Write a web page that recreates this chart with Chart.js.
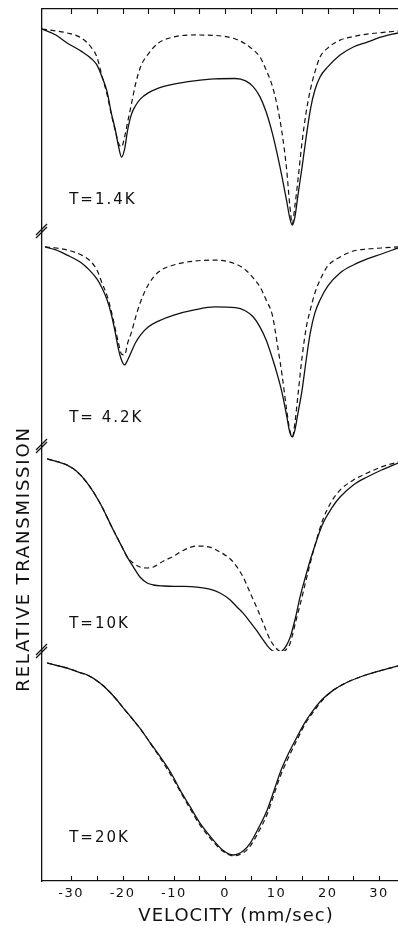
<!DOCTYPE html>
<html>
<head>
<meta charset="utf-8">
<title>Relative transmission vs velocity</title>
<script src="https://cdn.jsdelivr.net/npm/chart.js@4.4.1/dist/chart.umd.min.js"></script>
<style>
  html, body { margin: 0; padding: 0; background: #fff; }
  #wrap { position: relative; width: 398px; height: 926px; }
</style>
</head>
<body>
<div id="wrap"><canvas id="mossbauer"></canvas></div>
<script>
// Velocity axis (mm/sec)
const velocityMin = -35.7;
const velocityMax = 33.7;
const velocityTicks = [-30, -20, -10, 0, 10, 20, 30];
const velocityMinorTicks = [-30, -25, -20, -15, -10, -5, 0, 5, 10, 15, 20, 25, 30];

const panelLabels = ['T=1.4K', 'T= 4.2K', 'T=10K', 'T=20K'];

// T = 1.4 K  (relative transmission, arbitrary units per panel)
const vel1 = [-35.7, -33, -30.8, -28, -26, -25, -24, -23, -22.2, -21.4, -20.8, -20.2, -19.6, -19, -18.3, -17.5, -16.5, -15, -13, -10, -6, -2, 2, 4, 5.5, 6.8, 8, 9.2, 10.2, 11.1, 12, 12.6, 13.1, 13.6, 14.2, 15, 15.8, 16.6, 17.5, 18.5, 20, 22.4, 25, 27.7, 30.5, 33.7];
const solid1 = [91.0, 88.3, 84.7, 80.9, 77.5, 74.8, 69.4, 62.6, 53.2, 45.5, 38.3, 33.3, 36.9, 45.5, 52.3, 56.3, 59.5, 62.2, 64.4, 66.2, 67.6, 68.5, 68.7, 67.6, 64.9, 60.4, 53.6, 44.1, 34.2, 24.3, 13.5, 5.9, 2.7, 6.3, 16.2, 28.8, 42.3, 54.5, 63.5, 69.4, 73.9, 79.3, 82.9, 85.1, 87.4, 89.2];
const dashed1 = [91.0, 90.1, 89.2, 86.9, 82.4, 78.4, 69.8, 61.3, 52.7, 45.0, 39.6, 37.8, 42.3, 49.1, 56.8, 65.8, 73.9, 79.7, 84.7, 87.4, 88.3, 88.1, 86.5, 84.2, 81.5, 78.4, 72.5, 65.3, 55.9, 44.1, 27.5, 11.7, 3.2, 11.3, 23.0, 40.1, 53.6, 63.5, 71.6, 78.4, 82.4, 86.0, 87.6, 88.7, 89.4, 90.1];

// T = 4.2 K
const vel2 = [-35.1, -33, -30.8, -28, -26.5, -25, -24, -23, -22.2, -21.4, -20.8, -20.2, -19.6, -19, -18.3, -17.5, -16.5, -15, -13, -10, -6, -2, 2, 4, 5.5, 6.8, 8, 9.2, 10.2, 11.1, 12, 12.6, 13.1, 13.6, 14.2, 15, 15.8, 16.6, 17.5, 18.5, 20, 22.4, 25, 27.7, 30.5, 33.7];
const solid2 = [92.6, 91.2, 88.8, 85.1, 81.9, 77.7, 73.5, 67.9, 61.4, 52.6, 45.1, 40.0, 37.7, 40.0, 43.7, 47.9, 51.6, 55.3, 58.1, 60.9, 63.3, 64.7, 64.4, 62.8, 60.0, 55.3, 49.3, 40.9, 33.0, 24.7, 14.0, 6.5, 4.2, 7.4, 15.3, 26.0, 40.0, 52.6, 61.9, 67.9, 74.4, 80.5, 84.2, 87.0, 89.3, 92.1];
const dashed2 = [92.6, 92.1, 91.2, 88.8, 86.5, 81.9, 75.8, 69.8, 62.8, 54.4, 47.9, 42.8, 42.3, 47.9, 52.6, 59.5, 67.0, 74.9, 80.9, 84.2, 86.0, 86.5, 84.7, 81.9, 78.1, 74.0, 67.9, 60.9, 47.0, 33.0, 16.7, 7.4, 4.2, 10.7, 23.7, 41.4, 54.9, 63.3, 71.2, 77.2, 83.7, 87.9, 90.7, 91.6, 92.1, 92.6];

// T = 10 K
const vel3 = [-34.7, -32.5, -30.8, -29, -26.9, -24.4, -21.8, -19.8, -19.1, -17.9, -16.6, -15.2, -14, -12, -10, -8, -5.5, -3, -1, 1, 2.3, 3.5, 4.9, 6.2, 7.4, 8.8, 10.3, 11.1, 12, 12.7, 13.7, 14.6, 15.6, 16.6, 17.8, 19.1, 20.8, 22.4, 25, 27.7, 30.5, 33.7];
const solid3 = [93.7, 92.2, 90.7, 87.8, 82.0, 72.2, 59.0, 49.3, 45.9, 41.0, 36.1, 33.2, 32.2, 31.7, 31.5, 31.5, 31.2, 30.2, 28.3, 24.9, 21.5, 18.5, 14.1, 9.8, 5.4, 1.0, -1.0, 0.0, 2.9, 6.8, 16.1, 26.3, 35.6, 44.4, 53.7, 62.4, 69.8, 75.1, 81.0, 84.9, 88.3, 91.7];
const dashed3 = [93.7, 92.2, 90.7, 87.8, 82.0, 72.2, 59.0, 49.3, 45.9, 42.9, 41.0, 40.5, 41.0, 43.9, 46.3, 49.3, 51.2, 50.7, 48.3, 44.9, 41.0, 36.1, 28.3, 21.0, 13.7, 5.4, 0.5, -0.5, 1.0, 3.9, 13.7, 22.4, 32.7, 42.9, 54.1, 64.4, 73.2, 78.5, 83.4, 86.8, 89.8, 92.2];

// T = 20 K
const vel4 = [-34.7, -32.5, -30.8, -28, -26.9, -24.4, -22.5, -21.1, -19.5, -17.9, -16.2, -14.6, -12.9, -11.3, -10, -8.8, -6.8, -4.9, -2.3, -0.5, 1.6, 3.5, 4.9, 6.5, 8.2, 9.5, 10.7, 12.3, 14, 15.6, 17.2, 19, 21.1, 23.5, 26.3, 30, 33.7];
const solid4 = [94.8, 93.5, 92.6, 90.4, 89.6, 86.1, 82.2, 78.7, 74.3, 70.0, 65.2, 60.0, 54.8, 49.6, 44.8, 39.6, 32.2, 25.2, 17.8, 13.5, 11.3, 13.0, 16.5, 23.0, 30.9, 39.1, 47.0, 55.2, 62.6, 69.1, 74.3, 79.1, 83.0, 86.1, 88.7, 91.3, 93.5];
const dashed4 = [94.8, 93.5, 92.6, 90.4, 89.6, 86.1, 82.2, 78.7, 74.3, 70.0, 65.2, 60.0, 54.3, 48.7, 43.9, 39.1, 31.3, 24.3, 17.0, 13.0, 10.9, 12.2, 15.2, 21.3, 29.1, 37.4, 45.2, 53.5, 61.3, 68.3, 73.5, 78.7, 83.0, 86.1, 88.7, 91.3, 93.5];

const INK = '#111';

// panel heights (stack weights), top to bottom
const PANEL_WEIGHTS = [222, 215, 205, 230];
// where the "T=..." labels sit, in data units
const LABEL_VELOCITY = -30.4;
const LABEL_LEVELS = [12.2, 11.2, 11.2, 17.0];

const panels = [
    { axis: 'y1', vel: vel1, solid: solid1, dashed: dashed1 },
    { axis: 'y2', vel: vel2, solid: solid2, dashed: dashed2 },
    { axis: 'y3', vel: vel3, solid: solid3, dashed: dashed3 },
    { axis: 'y4', vel: vel4, solid: solid4, dashed: dashed4 }
];

const toPoints = (xs, ys) => xs.map((v, i) => ({ x: v, y: ys[i] }));

const datasets = panels.flatMap(p => [
    {
        data: toPoints(p.vel, p.solid),
        xAxisID: 'x', yAxisID: p.axis,
        borderColor: INK, borderWidth: 1.3,
        pointRadius: 0, fill: false,
        cubicInterpolationMode: 'monotone'
    },
    {
        data: toPoints(p.vel, p.dashed),
        xAxisID: 'x', yAxisID: p.axis,
        borderColor: INK, borderWidth: 1.2, borderDash: [5, 3.5],
        pointRadius: 0, fill: false,
        cubicInterpolationMode: 'monotone'
    }
]);

// one hidden-tick y axis per temperature, stacked down the left side
function panelAxis(index) {
    return {
        type: 'linear',
        position: 'left',
        stack: 'panels',
        stackWeight: PANEL_WEIGHTS[index],
        weight: 4 - index,
        min: 0,
        max: 100,
        grid: { display: false, drawTicks: false },
        ticks: { display: false },
        border: { display: true, color: INK, width: 1.3 },
        afterFit(s) { s.width = 42; s.paddingTop = 0; s.paddingBottom = 0; }
    };
}

function line(ctx, x1, y1, x2, y2) {
    ctx.beginPath();
    ctx.moveTo(x1, y1);
    ctx.lineTo(x2, y2);
    ctx.stroke();
}

// inward ticks, axis breaks and the hand-lettered texts
const decorPlugin = {
    id: 'decor',
    beforeDraw(chart) {
        chart.ctx.letterSpacing = '1.5px';
    },
    afterDraw(chart) {
        const { ctx, chartArea: area, scales } = chart;
        const xs = scales.x;
        ctx.save();
        ctx.letterSpacing = '0px';
        ctx.strokeStyle = INK;
        ctx.lineWidth = 1.1;

        velocityMinorTicks.forEach(v => {
            const px = Math.round(xs.getPixelForValue(v)) + 0.5;
            line(ctx, px, area.bottom, px, area.bottom - 5);
            line(ctx, px, area.top, px, area.top + 5);
        });

        // "//" breaks between panels
        ctx.lineWidth = 1.2;
        ['y2', 'y3', 'y4'].forEach(id => {
            const y = scales[id].top;
            const cx = area.left;
            line(ctx, cx - 6, y + 4, cx + 5, y - 7);
            line(ctx, cx - 6, y + 7, cx + 5, y - 4);
        });

        ctx.fillStyle = INK;
        ctx.textBaseline = 'alphabetic';
        ctx.textAlign = 'left';
        ctx.font = '15px "DejaVu Sans"';
        ctx.letterSpacing = '2px';
        panels.forEach((p, i) => {
            const ys = scales[p.axis];
            ctx.fillText(panelLabels[i], xs.getPixelForValue(LABEL_VELOCITY), ys.getPixelForValue(LABEL_LEVELS[i]));
        });

        // axis titles
        ctx.font = '18px "DejaVu Sans"';
        ctx.textAlign = 'center';
        ctx.letterSpacing = '1px';
        ctx.fillText('VELOCITY (mm/sec)', area.left + 194, chart.height - 5);

        ctx.save();
        ctx.translate(area.left - 18, 559);
        ctx.rotate(-Math.PI / 2);
        ctx.letterSpacing = '1.8px';
        ctx.textBaseline = 'middle';
        ctx.fillText('RELATIVE TRANSMISSION', 0, 0);
        ctx.restore();

        ctx.restore();
        ctx.letterSpacing = '0px';
    }
};

new Chart(document.getElementById('mossbauer'), {
    type: 'line',
    data: { datasets },
    options: {
        responsive: true,
        maintainAspectRatio: false,
        animation: false,
        events: [],
        layout: { padding: 0 },
        plugins: {
            legend: { display: false },
            tooltip: { enabled: false }
        },
        scales: {
            x: {
                type: 'linear',
                position: 'bottom',
                min: velocityMin,
                max: velocityMax,
                afterBuildTicks(s) { s.ticks = velocityTicks.map(v => ({ value: v })); },
                grid: { display: false, drawTicks: false },
                border: { display: true, color: INK, width: 1.3 },
                ticks: {
                    color: INK,
                    padding: 5,
                    maxRotation: 0,
                    autoSkip: false,
                    font: { family: 'DejaVu Sans', size: 13 }
                },
                afterFit(s) { s.height = 45; s.paddingLeft = 0; s.paddingRight = 0; }
            },
            xTop: {
                type: 'linear',
                position: 'top',
                min: velocityMin,
                max: velocityMax,
                grid: { display: false, drawTicks: false },
                ticks: { display: false },
                border: { display: true, color: INK, width: 1.3 },
                afterFit(s) { s.height = 9; s.paddingLeft = 0; s.paddingRight = 0; }
            },
            y1: panelAxis(0),
            y2: panelAxis(1),
            y3: panelAxis(2),
            y4: panelAxis(3)
        }
    },
    plugins: [decorPlugin]
});
</script>
</body>
</html>
